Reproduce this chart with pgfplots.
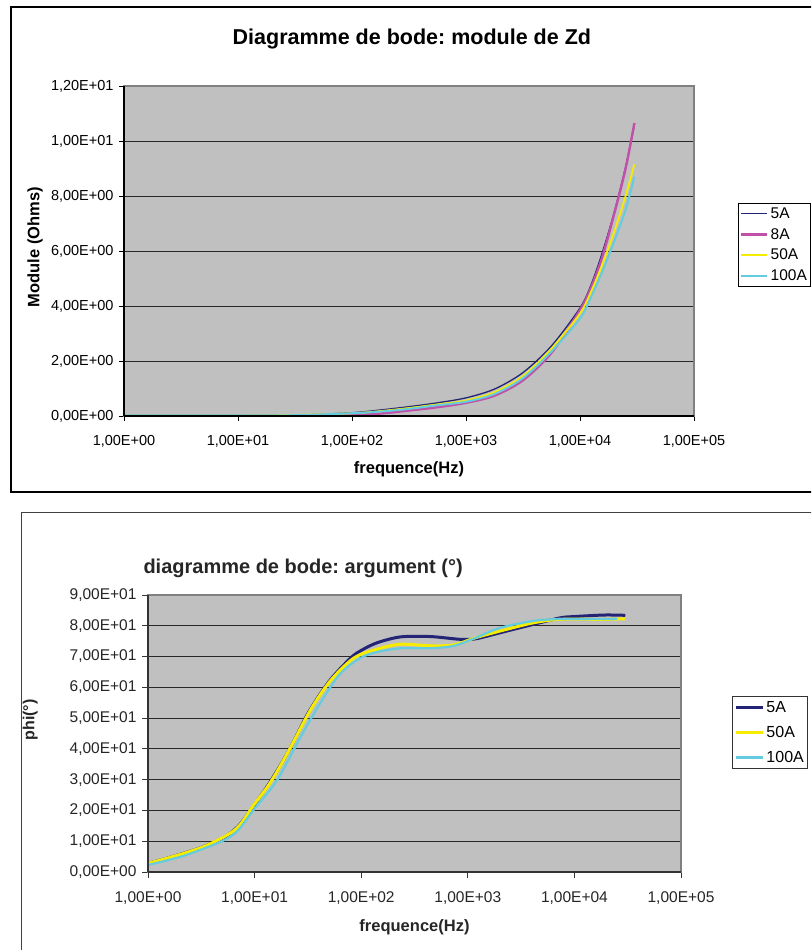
\documentclass[border=0pt]{standalone}
\usepackage{fontspec}
\setmainfont{Liberation Sans}
\usepackage{pgfplots}
\pgfplotsset{compat=1.18}
\definecolor{plotgray}{RGB}{192,192,192}
\definecolor{navyc}{RGB}{36,36,118}
\definecolor{pinkc}{RGB}{192,80,168}
\definecolor{yellowc}{RGB}{246,236,0}
\definecolor{cyanc}{RGB}{100,204,222}
\definecolor{bordergray}{RGB}{128,128,128}
\definecolor{gridc}{RGB}{40,40,40}
\frenchspacing
\begin{document}
\begin{tikzpicture}
\useasboundingbox (0pt,0pt) rectangle (811pt,-950pt);
\clip (0pt,0pt) rectangle (811pt,-950pt);
\fill[white] (0pt,0pt) rectangle (811pt,-950pt);
\draw[black, line width=1.2pt] (11pt,-7pt) rectangle (830pt,-492pt);
\draw[black!75, line width=1.2pt] (21.5pt,-512.5pt) rectangle (830pt,-970pt);

% ---------- Top chart ----------
\begin{axis}[
  at={(124pt,-416pt)}, anchor=south west,
  scale only axis, width=570pt, height=330pt,
  xmode=log, xmin=1, xmax=100000, ymin=0, ymax=12,
  xtick={1,10,100,1000,10000,100000},
  xticklabels={{1,00E+00},{1,00E+01},{1,00E+02},{1,00E+03},{1,00E+04},{1,00E+05}},
  ytick={0,2,4,6,8,10,12},
  yticklabels={{0,00E+00},{2,00E+00},{4,00E+00},{6,00E+00},{8,00E+00},{1,00E+01},{1,20E+01}},
  xminorticks=false, yminorticks=false,
  tick pos=left, tick align=outside, major tick length=5pt,
  tick style={black, line width=0.9pt},
  axis background/.style={fill=plotgray},
  ymajorgrids, major grid style={gridc, line width=1pt},
  axis line style={draw=bordergray, line width=1.2pt},
  ticklabel style={font=\fontsize{14.5}{16}\selectfont},
  xticklabel style={yshift=-11pt},
  yticklabel style={xshift=-2pt},
  xlabel={frequence(Hz)}, ylabel={Module (Ohms)},
  xlabel style={font=\bfseries\fontsize{16.5}{18}\selectfont, at={(axis description cs:0.5,-0.162)}, anchor=center},
  ylabel style={font=\bfseries\fontsize{16.5}{18}\selectfont, at={(axis description cs:-0.156,0.512)}, anchor=center},
  title={Diagramme de bode: module de Zd},
  title style={font=\bfseries\fontsize{21.5}{24}\selectfont, at={(axis description cs:0.505,1.124)}, anchor=center},
  clip=false,
  legend cell align=left,
  legend style={at={(axis description cs:1.077,0.645)}, anchor=north west, draw=black, fill=white,
    font=\fontsize{15.5}{17}\selectfont, inner xsep=2pt, inner ysep=2pt, row sep=4.5pt, line width=0.8pt},
  legend image code/.code={\draw[#1] (0pt,0pt) -- (26pt,0pt);},
]
\addplot[navyc, line width=1.3pt, smooth, tension=0.5] coordinates {
(1,0.01)(3.162,0.01)(10,0.015)(31.62,0.03)(100,0.12)(177.8,0.22)(316.2,0.34)(562.3,0.48)(1000,0.66)(1778,0.98)(3162,1.58)(5623,2.55)(10000,3.93)(12589,4.8)(15849,6.0)(19953,7.4)(25119,9.05)(30000,10.6)};
\addlegendentry{5A}
\addplot[pinkc, line width=2.4pt, smooth, tension=0.5] coordinates {
(1,0.01)(3.162,0.01)(10,0.01)(31.62,0.02)(100,0.04)(177.8,0.09)(316.2,0.2)(562.3,0.32)(1000,0.48)(1778,0.74)(3162,1.3)(5623,2.3)(10000,3.85)(12589,4.7)(15849,5.85)(19953,7.35)(25119,9.0)(30000,10.65)};
\addlegendentry{8A}
\addplot[yellowc, line width=1.8pt, smooth, tension=0.5] coordinates {
(1,0.02)(3.162,0.02)(10,0.02)(31.62,0.04)(100,0.1)(177.8,0.18)(316.2,0.29)(562.3,0.42)(1000,0.56)(1778,0.86)(3162,1.45)(5623,2.45)(10000,3.73)(12589,4.55)(15849,5.55)(19953,6.7)(25119,8.0)(30000,9.15)};
\addlegendentry{50A}
\addplot[cyanc, line width=2pt, smooth, tension=0.5] coordinates {
(1,0.02)(3.162,0.02)(10,0.02)(31.62,0.03)(100,0.1)(177.8,0.16)(316.2,0.26)(562.3,0.39)(1000,0.52)(1778,0.8)(3162,1.38)(5623,2.35)(10000,3.55)(12589,4.35)(15849,5.3)(19953,6.35)(25119,7.5)(30000,8.7)};
\addlegendentry{100A}
\draw[black, line width=1.2pt] (rel axis cs:0,0) -- (rel axis cs:1,0);
\draw[black, line width=1.2pt] (rel axis cs:0,0) -- (rel axis cs:0,1);
\end{axis}

% ---------- Bottom chart ----------
\begin{axis}[
  at={(148pt,-872pt)}, anchor=south west,
  scale only axis, width=533pt, height=277pt,
  xmode=log, xmin=1, xmax=100000, ymin=0, ymax=90,
  xtick={1,10,100,1000,10000,100000},
  xticklabels={{1,00E+00},{1,00E+01},{1,00E+02},{1,00E+03},{1,00E+04},{1,00E+05}},
  ytick={0,10,20,30,40,50,60,70,80,90},
  yticklabels={{0,00E+00},{1,00E+01},{2,00E+01},{3,00E+01},{4,00E+01},{5,00E+01},{6,00E+01},{7,00E+01},{8,00E+01},{9,00E+01}},
  xminorticks=false, yminorticks=false,
  tick pos=left, tick align=outside, major tick length=6pt,
  tick style={black!80, line width=1pt},
  axis background/.style={fill=plotgray},
  ymajorgrids, major grid style={gridc, line width=1.1pt},
  axis line style={draw=bordergray, line width=1.2pt},
  ticklabel style={font=\fontsize{15.5}{18}\selectfont, text=black!85},
  xticklabel style={yshift=-10pt},
  yticklabel style={xshift=-2pt},
  xlabel={frequence(Hz)}, ylabel={phi(°)},
  xlabel style={font=\bfseries\fontsize{16.5}{18}\selectfont, text=black!85, at={(axis description cs:0.5,-0.2)}, anchor=center},
  ylabel style={font=\bfseries\fontsize{16}{18}\selectfont, text=black!85, at={(axis description cs:-0.221,0.549)}, anchor=center},
  title={diagramme de bode: argument (°)},
  title style={font=\bfseries\fontsize{20}{22}\selectfont, text=black!85, at={(axis description cs:0.291,1.073)}, anchor=center},
  clip=false,
  legend cell align=left,
  legend style={at={(axis description cs:1.0957,0.635)}, anchor=north west, draw=black!80, fill=white,
    font=\fontsize{16}{18}\selectfont, inner xsep=2pt, inner ysep=2.5pt, row sep=8.5pt, line width=0.9pt},
  legend image code/.code={\draw[#1] (0pt,0pt) -- (27pt,0pt);},
]
\addplot[navyc, line width=3pt, smooth, tension=0.5] coordinates {
(1,2.8)(1.778,5.2)(3.162,8.0)(5.012,11)(7.079,15)(10,22)(14.13,29.5)(21.38,40)(31.62,51.5)(50.12,62)(79.43,69.5)(100,72)(141.3,74.5)(234.4,76.4)(446.7,76.5)(851.1,75.6)(1202,75.8)(2042,77.8)(4169,80.5)(7413,82.6)(10000,83.0)(19055,83.5)(30000,83.4)};
\addlegendentry{5A}
\addplot[yellowc, line width=3pt, smooth, tension=0.5] coordinates {
(1,2.8)(2.138,6.0)(3.802,9.1)(6.761,14.1)(9.772,21.7)(14.13,29.2)(21.38,40)(33.11,52.4)(51.29,62.1)(85.11,69.5)(141.3,72.4)(234.4,74.0)(446.7,73.5)(741.3,73.8)(1202,76.2)(2344,78.9)(4169,81.0)(7413,82.1)(19055,82.1)(30000,82.3)};
\addlegendentry{50A}
\addplot[cyanc, line width=2.2pt, smooth, tension=0.5] coordinates {
(1,2.3)(2.138,5.2)(4.786,9.8)(6.761,13.0)(9.772,20.1)(16.22,29.8)(26.92,43.8)(41.69,55.1)(63.1,64.3)(97.7,69.5)(141.3,71.5)(234.4,72.7)(446.7,72.7)(741.3,73.5)(1202,76.2)(2042,79.4)(4169,81.6)(7413,82.2)(19055,82.2)(25119,82.3)};
\addlegendentry{100A}
\draw[black!80, line width=1.2pt] (rel axis cs:0,0) -- (rel axis cs:1,0);
\draw[black!80, line width=1.2pt] (rel axis cs:0,0) -- (rel axis cs:0,1);
\end{axis}
\end{tikzpicture}
\end{document}
